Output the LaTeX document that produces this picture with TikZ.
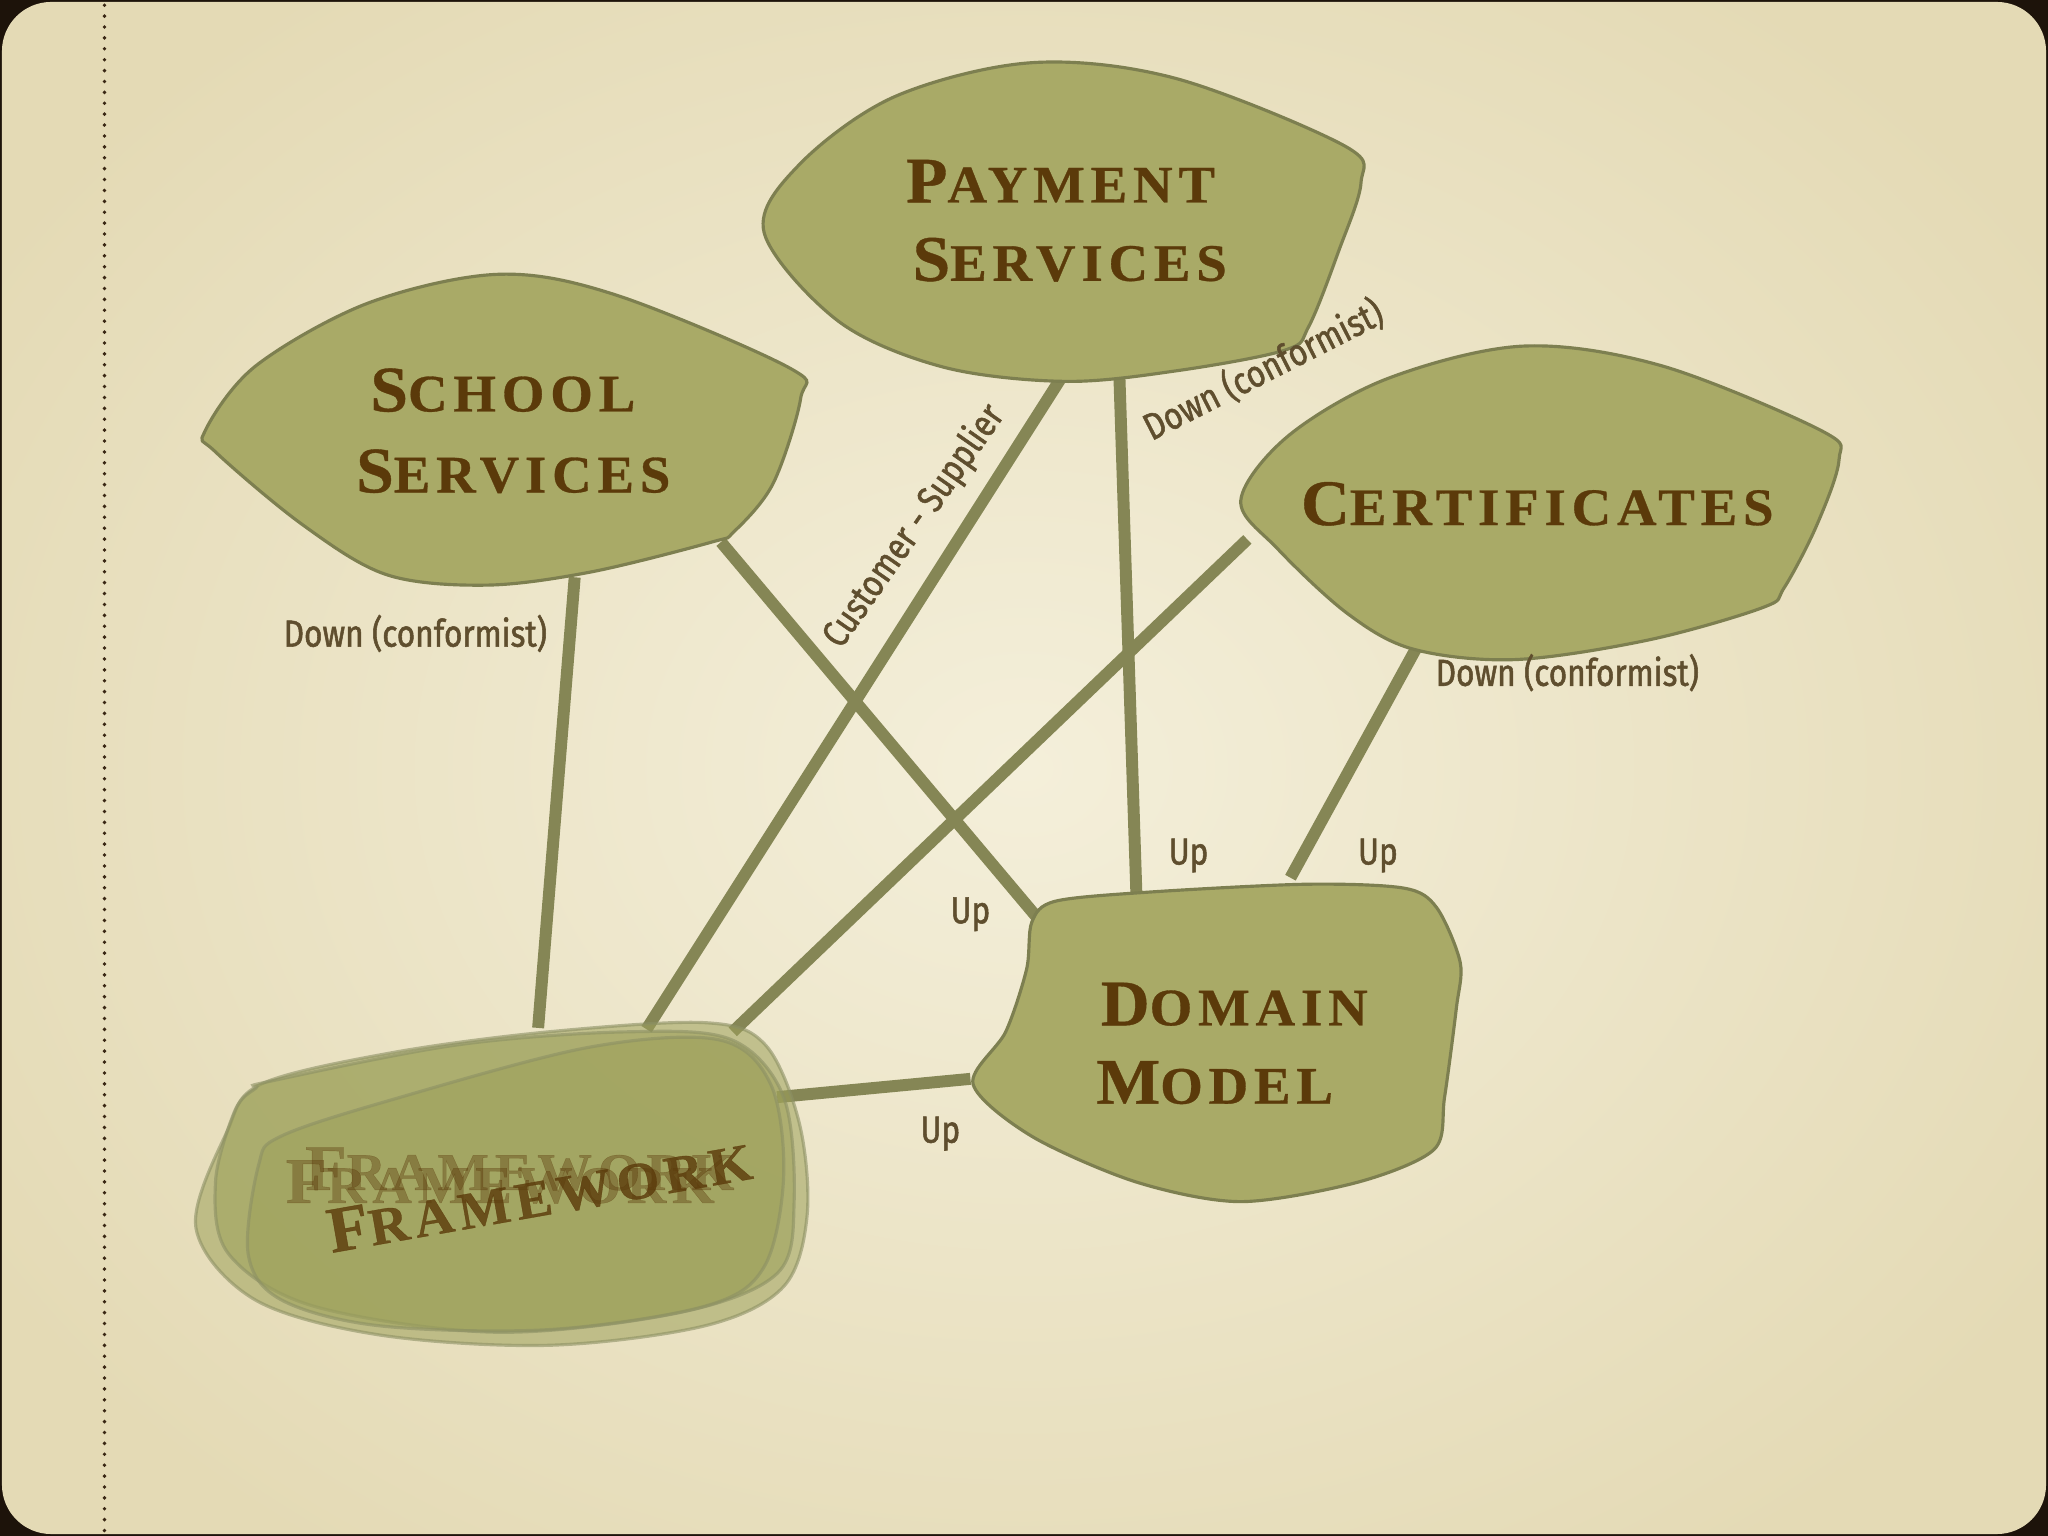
\documentclass[tikz,border=0pt]{standalone}
\usepackage{fontspec}
\newfontfamily\titlefont[LetterSpace=11,FakeStretch=1.04,FakeBold=0.6]{Liberation Serif}
\newfontfamily\handfont[FakeStretch=0.84,FakeBold=1.4]{Fira Sans}
\newcommand\capw[2]{{\fontsize{18.5}{20}\selectfont #1}{\fontsize{15}{18}\selectfont #2}}
\definecolor{bgin}{HTML}{F4EFDA}
\definecolor{bgout}{HTML}{E4DAB5}
\definecolor{blobfill}{HTML}{A9AA67}
\definecolor{blobedge}{HTML}{7D7F50}
\definecolor{conn}{HTML}{858655}
\definecolor{titlec}{HTML}{5B3A0A}
\definecolor{labelc}{HTML}{5F4E2E}
\definecolor{fwfill}{HTML}{9DA15A}
\definecolor{fwedge}{HTML}{8C9064}
\tikzset{
  blob/.style={fill=blobfill, draw=blobedge, line width=0.9pt},
  fwblob/.style={fill=fwfill, fill opacity=0.55, draw=fwedge, draw opacity=0.6, line width=0.9pt},
  link/.style={draw=conn, line width=3.4pt},
  title/.style={text=titlec, font=\titlefont\bfseries, inner sep=0pt, anchor=base},
  lbl/.style={text=labelc, font=\handfont\fontsize{10.7}{12}\selectfont, inner sep=1pt},
}
\begin{document}
\begin{tikzpicture}[x=0.013061cm, y=-0.013061cm]
\useasboundingbox (0,0) rectangle (1568,1176);
% frame and background
\fill[black!85!brown] (0,0) rectangle (1568,1176);
\begin{scope}
\clip[rounded corners=14pt] (1.5,1.5) rectangle (1566.5,1174.5);
\shade[inner color=bgin, outer color=bgout] (-150,-150) rectangle (1718,1326);
\end{scope}
\draw[black!70!brown, line width=1.1pt, line cap=round, dash pattern=on 0pt off 3.1pt] (80,4) -- (80,1174);

% connector end points
\coordinate (ss1) at (440,442);
\coordinate (ss2) at (552,415);
\coordinate (ps1) at (812,290);
\coordinate (ps2) at (857,287);
\coordinate (ce1) at (955,413);
\coordinate (ce2) at (1085,495);
\coordinate (fw1) at (412,787);
\coordinate (fw2) at (495,788);
\coordinate (fw3) at (561,790);
\coordinate (fw4) at (595,840);
\coordinate (dm1) at (797,706);
\coordinate (dm2) at (870,683);
\coordinate (dm3) at (988,672);
\coordinate (dm4) at (743,826);

% connectors
\draw[link] (ss1) -- (fw1);
\draw[link] (ss2) -- (dm1);
\draw[link] (ps1) -- (fw2);
\draw[link] (ps2) -- (dm2);
\draw[link] (ce1) -- (fw3);
\draw[link] (ce2) -- (dm3);
\draw[link] (fw4) -- (dm4);

% blobs
\draw[blob] plot[smooth cycle, tension=0.55] coordinates {(585,178) (612,126) (685,74) (790,48) (900,60) (1030,112) (1042,140) (1025,192) (1002,250) (984,268) (900,284) (815,292) (722,281) (642,246)};
\draw[blob] plot[smooth cycle, tension=0.55] coordinates {(157,330) (196,280) (282,232) (382,210) (472,226) (605,282) (613,305) (592,370) (562,407) (545,415) (452,438) (372,448) (296,440) (232,402) (165,346)};
\draw[blob] plot[smooth cycle, tension=0.55] coordinates {(950,383) (986,334) (1062,290) (1166,265) (1272,280) (1395,330) (1408,352) (1391,402) (1366,450) (1350,465) (1262,490) (1160,505) (1082,497) (1032,470) (978,420)};
\draw[blob] plot[smooth cycle, tension=0.5] coordinates {(790,706) (808,690) (880,683) (1000,677) (1075,680) (1100,695) (1118,737) (1115,772) (1106,840) (1098,880) (1040,905) (950,920) (870,905) (790,870) (745,830) (770,790) (786,742)};

% framework layers
\draw[fwblob] plot[smooth cycle, tension=0.55] coordinates {(150,940) (174,866) (200,830) (300,806) (420,790) (540,783) (586,800) (612,860) (618,930) (600,985) (540,1015) (420,1030) (290,1022) (195,995)};
\draw[fwblob] plot[smooth cycle, tension=0.55] coordinates {(165,905) (180,850) (196,833) (206,828) (350,800) (480,790) (560,796) (600,840) (608,920) (595,975) (520,1005) (380,1020) (240,1000) (175,960)};
\draw[fwblob] plot[smooth cycle, tension=0.55] coordinates {(190,960) (198,892) (215,870) (300,842) (450,802) (550,796) (590,830) (600,900) (585,970) (540,1000) (420,1018) (290,1015) (215,995)};

% titles
\node[title] (psA) at (812,155) {\capw{P}{AYMENT}};
\node[title] (psB) at (819,215) {\capw{S}{ERVICES}};
\node[title] (ssA) at (385,315) {\capw{S}{CHOOL}};
\node[title] (ssB) at (393,377) {\capw{S}{ERVICES}};
\node[title] (ceA) at (1177,402) {\capw{C}{ERTIFICATES}};
\node[title] (dmA) at (945,785) {\capw{D}{OMAIN}};
\node[title] (dmB) at (930,845) {\capw{M}{ODEL}};
\node[title, text opacity=0.38, anchor=center] (fwA) at (383,905) {\capw{F}{RAMEWORK}};
\node[title, text opacity=0.38, anchor=center] (fwB) at (398,895) {\capw{F}{RAMEWORK}};
\node[title, text opacity=0.8, anchor=center, rotate=10] (fwC) at (413,915) {\capw{F}{RAMEWORK}};

% labels
\node[lbl] (l1) at (318,485) {Down (conformist)};
\node[lbl, rotate=55] (l2) at (700,403) {Customer - Supplier};
\node[lbl, rotate=27] (l3) at (967,283) {Down (conformist)};
\node[lbl] (l4) at (1200,515) {Down (conformist)};
\node[lbl] (u1) at (910,655) {Up};
\node[lbl] (u2) at (1055,655) {Up};
\node[lbl] (u3) at (743,700) {Up};
\node[lbl] (u4) at (720,868) {Up};
\end{tikzpicture}
\end{document}
